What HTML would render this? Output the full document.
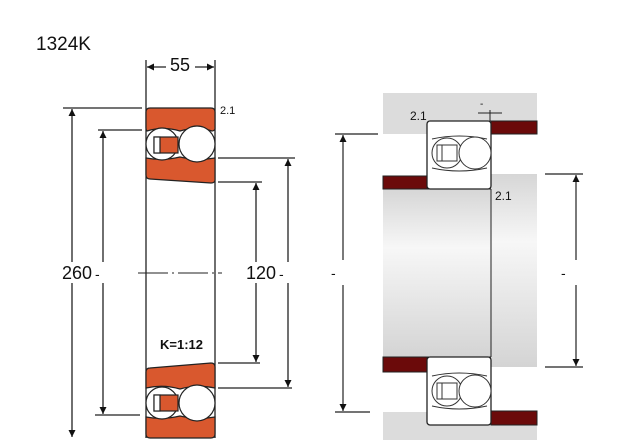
<!DOCTYPE html>
<html><head><meta charset="utf-8"><style>
html,body{margin:0;padding:0;background:#fff;width:640px;height:440px;overflow:hidden}
svg{display:block}
text{font-family:"Liberation Sans",sans-serif;fill:#111}
</style></head><body>
<svg width="640" height="440" viewBox="0 0 640 440" xmlns="http://www.w3.org/2000/svg">
<defs>
<linearGradient id="g" x1="0" y1="0" x2="0" y2="1">
<stop offset="0" stop-color="#d6d6d6"/><stop offset="0.35" stop-color="#f7f7f7"/><stop offset="1" stop-color="#d4d4d4"/>
</linearGradient>
<marker id="a" viewBox="0 0 10 10" refX="10" refY="5" markerWidth="7" markerHeight="9" orient="auto-start-reverse" markerUnits="userSpaceOnUse"><path d="M0,0 L10,5 L0,10z" fill="#111"/></marker>
</defs>
<text x="36" y="50" font-size="19">1324K</text>

<!-- LEFT -->
<g stroke="#222" stroke-width="1.3" fill="none">
<line x1="146" y1="60" x2="146" y2="438"/><line x1="215" y1="60" x2="215" y2="438"/>
<line x1="147" y1="67" x2="166" y2="67" marker-start="url(#a)"/>
<line x1="195" y1="67" x2="214" y2="67" marker-end="url(#a)"/>
<line x1="63" y1="108" x2="142" y2="108"/><line x1="72" y1="109" x2="72" y2="262" marker-start="url(#a)"/><line x1="72" y1="283" x2="72" y2="437" marker-end="url(#a)"/>
<line x1="98" y1="130" x2="142" y2="130"/><line x1="103" y1="131" x2="103" y2="262" marker-start="url(#a)"/><line x1="103" y1="283" x2="103" y2="414" marker-end="url(#a)"/>
<line x1="95" y1="415" x2="140" y2="415"/>
<line x1="218" y1="158" x2="295" y2="158"/><line x1="288" y1="159" x2="288" y2="262" marker-start="url(#a)"/><line x1="288" y1="283" x2="288" y2="387" marker-end="url(#a)"/>
<line x1="218" y1="182" x2="262" y2="182"/><line x1="256" y1="183" x2="256" y2="262" marker-start="url(#a)"/><line x1="256" y1="283" x2="256" y2="362" marker-end="url(#a)"/>
<line x1="218" y1="363" x2="260" y2="363"/><line x1="218" y1="388" x2="292" y2="388"/>
<line x1="138" y1="273" x2="222" y2="273" stroke-dasharray="30 4 2 4" stroke-width="1"/>
</g>
<text x="170" y="71" font-size="18">55</text>
<text x="220" y="114" font-size="11">2.1</text>
<text x="62" y="279" font-size="18">260</text><text x="95" y="279" font-size="14">-</text>
<text x="246" y="279" font-size="18">120</text><text x="279" y="279" font-size="14">-</text>
<text x="160" y="349" font-size="13" font-weight="bold">K=1:12</text>

<!-- top bearing -->
<g stroke="#222" stroke-width="1.2">
<path d="M150,108 H211 Q215,108 215,112 V129 Q214,131 212,131 Q197,126 180,131 Q163,126 147,131 Q146,130 146,128 V112 Q146,108 150,108Z" fill="#d9582e"/>
<path d="M146,158 Q163,161 180,157 Q197,161 215,158 V180 Q215,183 211,183 L150,179 Q146,179 146,175Z" fill="#d9582e"/>
<circle cx="162" cy="144" r="16" fill="#fff"/>
<rect x="154" y="137" width="24" height="16" fill="#d9582e"/><rect x="154" y="137" width="6" height="16" fill="#fff"/>
<circle cx="197" cy="144" r="18" fill="#fff"/>
</g>
<!-- bottom bearing -->
<g stroke="#222" stroke-width="1.2">
<path d="M150,368 L211,363 Q215,363 215,367 V388 Q197,384 180,389 Q163,384 146,388 V372 Q146,368 150,368Z" fill="#d9582e"/>
<path d="M146,417 Q163,420 180,416 Q197,420 215,417 V434 Q215,438 211,438 H150 Q146,438 146,434Z" fill="#d9582e"/>
<circle cx="162" cy="403" r="16" fill="#fff"/>
<rect x="154" y="395" width="24" height="16" fill="#d9582e"/><rect x="154" y="395" width="6" height="16" fill="#fff"/>
<circle cx="197" cy="403" r="18" fill="#fff"/>
</g>

<!-- RIGHT -->
<rect x="383" y="93" width="154" height="41" fill="#dcdcdc"/>
<rect x="383" y="189" width="108" height="168" fill="url(#g)"/>
<rect x="491" y="174" width="46" height="193" fill="url(#g)"/>
<rect x="383" y="412" width="44" height="28" fill="#dcdcdc"/>
<rect x="491" y="425" width="46" height="15" fill="#dcdcdc"/>
<rect x="427" y="425" width="64" height="15" fill="#dcdcdc"/>
<g stroke="#222" stroke-width="1">
<rect x="491" y="121" width="46" height="13" fill="#6b0a0a"/>
<rect x="383" y="176" width="44" height="13" fill="#6b0a0a"/>
<rect x="383" y="357" width="44" height="15" fill="#6b0a0a"/>
<rect x="491" y="411" width="46" height="14" fill="#6b0a0a"/>
<line x1="491" y1="189" x2="491" y2="357"/>
<line x1="383" y1="189" x2="491" y2="189"/>
<line x1="383" y1="357" x2="491" y2="357"/>
</g>
<g stroke="#222" stroke-width="1.3" fill="#fff">
<rect x="427" y="121" width="64" height="68" rx="3"/>
<rect x="427" y="357" width="64" height="68" rx="3"/>
</g>
<g stroke="#333" stroke-width="1" fill="none">
<path d="M432,139 Q459,133 487,139 M432,168 Q459,174 487,168"/>
<circle cx="447" cy="153" r="15" fill="#fff"/><circle cx="475" cy="153" r="16" fill="#fff"/>
<rect x="437" y="145" width="20" height="16"/><line x1="442" y1="145" x2="442" y2="161"/>
<path d="M432,376 Q459,370 487,376 M432,406 Q459,412 487,406"/>
<circle cx="447" cy="391" r="15" fill="#fff"/><circle cx="475" cy="391" r="16" fill="#fff"/>
<rect x="437" y="383" width="20" height="16"/><line x1="442" y1="383" x2="442" y2="399"/>
</g>
<g stroke="#222" stroke-width="1.2" fill="none">
<line x1="335" y1="134" x2="378" y2="134"/><line x1="335" y1="412" x2="370" y2="412"/>
<line x1="343" y1="135" x2="343" y2="260" marker-start="url(#a)"/><line x1="343" y1="285" x2="343" y2="411" marker-end="url(#a)"/>
<line x1="545" y1="174" x2="583" y2="174"/><line x1="545" y1="367" x2="583" y2="367"/>
<line x1="576" y1="175" x2="576" y2="260" marker-start="url(#a)"/><line x1="576" y1="285" x2="576" y2="366" marker-end="url(#a)"/>
<line x1="478" y1="113" x2="502" y2="113" stroke-width="1"/><line x1="490" y1="110" x2="490" y2="121" stroke-width="1"/>
</g>
<text x="410" y="120" font-size="12">2.1</text>
<text x="495" y="200" font-size="12">2.1</text>
<text x="480" y="107" font-size="10">-</text>
<text x="331" y="278" font-size="14">-</text>
<text x="561" y="278" font-size="14">-</text>
</svg>
</body></html>
